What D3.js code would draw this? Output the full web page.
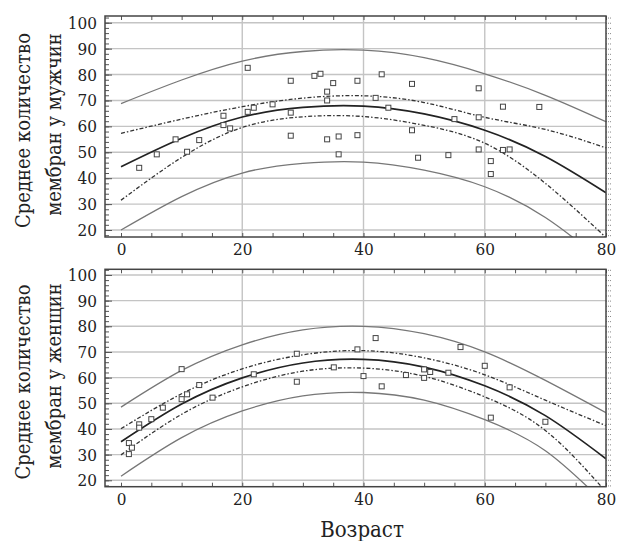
<!DOCTYPE html>
<html>
<head>
<meta charset="utf-8">
<script src="https://cdn.jsdelivr.net/npm/d3@7"></script>
<style>
body { margin: 0; background: #fff; }
svg text { font-family: "DejaVu Serif Condensed", "DejaVu Serif", serif !important; font-stretch: condensed; fill: #222; }
</style>
</head>
<body>
<script>
var ages = [0, 10, 20, 30, 40, 50, 60, 70, 80];

// men (top panel)
var menAge = [3, 5.9, 9, 10.9, 12.9, 16.9, 16.9, 18, 20.9, 20.9, 21.9, 25, 28, 28, 28, 31.9, 32.9, 34, 34, 34, 35, 35.9, 35.9, 39, 39,
              42, 43, 44.1, 48, 48, 49, 54, 55, 59, 59, 59, 61, 61, 63, 63, 64.1, 69];
var menVal = [44, 49.2, 55, 50.2, 54.7, 64.1, 60.5, 59.2, 82.6, 65.6, 67.2, 68.5, 77.6, 65.3, 56.4, 79.5, 80.3, 73.4, 70, 55, 76.7, 56.1, 49.2, 77.6, 56.6,
              71, 80.1, 67.2, 76.4, 58.5, 47.9, 48.9, 62.8, 74.7, 63.5, 51.1, 46.6, 41.6, 67.6, 50.9, 51.1, 67.5];
var menFit    = [44.4, 55.4, 63.6, 67.3, 67.8, 64.8, 58.5, 48.4, 34.4];
var menConfHi = [57.3, 62.8, 67.6, 70.9, 71.8, 69.2, 63.5, 58.8, 51.7];
var menConfLo = [31.5, 48.0, 59.6, 63.7, 63.8, 60.4, 53.5, 38.0, 17.1];
var menPredHi = [68.8, 77.9, 85.2, 88.9, 89.4, 86.5, 80.3, 72.0, 61.8];
var menPredLo = [20.0, 32.9, 42.0, 45.7, 46.2, 43.1, 36.7, 24.8, 7.0];

// women (bottom panel)
var womenAge = [1.3, 1.3, 1.8, 3, 3, 5, 6.9, 10, 10, 10.9, 12.9, 15.1, 21.9, 29, 29, 35.1, 39,
                40, 42, 43, 47, 50, 50, 51, 54, 56, 60, 61, 64.1, 70];
var womenVal = [30.2, 34.5, 32.7, 41.8, 40.5, 43.8, 48.3, 63.3, 51.6, 53.5, 57.1, 52.2, 61.3, 69.3, 58.4, 64, 71,
                60.6, 75.4, 56.6, 61, 63.2, 59.9, 62.2, 61.9, 71.9, 64.6, 44.4, 56.2, 42.8];
var womenFit    = [35.0, 49.7, 59.9, 65.7, 67.1, 64.1, 56.8, 45.2, 28.4];
var womenConfHi = [40.1, 53.7, 63.4, 68.9, 70.5, 67.7, 61.1, 51.2, 41.3];
var womenConfLo = [29.9, 45.7, 56.4, 62.5, 63.7, 60.5, 52.5, 39.4, 15.5];
var womenPredHi = [48.5, 62.8, 72.8, 78.6, 80.0, 77.1, 70.0, 58.9, 46.3];
var womenPredLo = [21.6, 36.6, 47.0, 52.9, 54.2, 51.2, 43.6, 31.5, 10.5];

var yTicks = [20, 30, 40, 50, 60, 70, 80, 90, 100];
var xTicks = [0, 20, 40, 60, 80];

var serif = "'DejaVu Serif Condensed', 'DejaVu Serif', serif";

var svg = d3.select("body").append("svg")
    .attr("width", 618)
    .attr("height", 541)
    .attr("font-family", serif);

var x = d3.scaleLinear()
    .domain([-2.64, 80])
    .range([105, 606]);

function drawPanel(id, top, bottom, yDomain, pts, fits, title2) {
  var y = d3.scaleLinear()
      .domain(yDomain)
      .range([bottom, top]);

  svg.append("clipPath").attr("id", id)
    .append("rect")
    .attr("x", x.range()[0]).attr("y", top)
    .attr("width", x.range()[1] - x.range()[0]).attr("height", bottom - top);

  // grid
  svg.append("g").selectAll("line").data(yTicks).join("line")
      .attr("x1", x.range()[0]).attr("x2", x.range()[1])
      .attr("y1", d => y(d)).attr("y2", d => y(d))
      .attr("stroke", "#c4c4c4").attr("stroke-width", 1.4);
  svg.append("g").selectAll("line").data([20, 40, 60]).join("line")
      .attr("x1", d => x(d)).attr("x2", d => x(d))
      .attr("y1", top).attr("y2", bottom)
      .attr("stroke", "#c4c4c4").attr("stroke-width", 1.4);

  // left axis, ticks inside
  svg.append("g")
      .attr("transform", "translate(" + x.range()[0] + ",0)")
      .call(d3.axisRight(y).tickValues(d3.range(18, 103, 2)).tickSize(4).tickFormat(""))
      .call(g => g.select(".domain").remove())
      .selectAll("line").attr("stroke", "#555");
  svg.append("g")
      .attr("transform", "translate(" + x.range()[0] + ",0)")
      .call(d3.axisLeft(y).tickValues(yTicks).tickSize(-7).tickPadding(8))
      .attr("font-family", serif)
      .call(g => g.select(".domain").remove())
      .call(g => g.selectAll("line").attr("stroke", "#555"))
      .selectAll("text")
      .attr("font-size", 17)
      .attr("fill", "#222");

  // right axis, small ticks outside
  svg.append("g")
      .attr("transform", "translate(" + x.range()[1] + ",0)")
      .call(d3.axisRight(y).tickValues(d3.range(18, 103, 2)).tickSize(6).tickFormat(""))
      .call(g => g.select(".domain").remove())
      .selectAll("line").attr("stroke", "#888").attr("stroke-dasharray", "1,1");

  // top & bottom ticks inside
  svg.append("g")
      .attr("transform", "translate(0," + top + ")")
      .call(d3.axisBottom(x).tickValues(d3.range(0, 81, 5)).tickSize(4).tickFormat(""))
      .call(g => g.select(".domain").remove())
      .selectAll("line").attr("stroke", "#555");
  svg.append("g")
      .attr("transform", "translate(0," + bottom + ")")
      .call(d3.axisTop(x).tickValues(d3.range(0, 81, 5)).tickSize(4).tickFormat(""))
      .call(g => g.select(".domain").remove())
      .selectAll("line").attr("stroke", "#555");
  svg.append("g")
      .attr("transform", "translate(0," + bottom + ")")
      .call(d3.axisBottom(x).tickValues(xTicks).tickSize(0).tickPadding(6))
      .attr("font-family", serif)
      .call(g => g.select(".domain").remove())
      .selectAll("text")
      .attr("font-size", 17)
      .attr("fill", "#222");

  // curves
  var line = d3.line()
      .x((d, i) => x(ages[i]))
      .y(d => y(d))
      .curve(d3.curveNatural);
  var cg = svg.append("g").attr("clip-path", "url(#" + id + ")");
  [fits.predHi, fits.predLo].forEach(function(s) {
    cg.append("path").attr("d", line(s))
      .attr("fill", "none").attr("stroke", "#777").attr("stroke-width", 1.3);
  });
  [fits.confHi, fits.confLo].forEach(function(s) {
    cg.append("path").attr("d", line(s))
      .attr("fill", "none").attr("stroke", "#333").attr("stroke-width", 1.3)
      .attr("stroke-dasharray", "4,2,1.5,2");
  });
  cg.append("path").attr("d", line(fits.fit))
    .attr("fill", "none").attr("stroke", "#222").attr("stroke-width", 1.7);

  // points
  svg.append("g").selectAll("rect").data(pts.age).join("rect")
      .attr("x", d => x(d) - 2.5)
      .attr("y", (d, i) => y(pts.val[i]) - 2.5)
      .attr("width", 5).attr("height", 5)
      .attr("fill", "#fff").attr("stroke", "#444").attr("stroke-width", 1);

  // frame
  svg.append("rect")
      .attr("x", x.range()[0]).attr("y", top)
      .attr("width", x.range()[1] - x.range()[0]).attr("height", bottom - top)
      .attr("fill", "none").attr("stroke", "#444").attr("stroke-width", 1.5);

  // y title
  var cy = (top + bottom) / 2;
  svg.append("text")
      .attr("transform", "translate(23," + (cy + 4) + ") rotate(-90)")
      .attr("text-anchor", "middle").attr("dominant-baseline", "central")
      .attr("font-size", 20)
      .text("Среднее количество");
  svg.append("text")
      .attr("transform", "translate(54," + (cy - 2) + ") rotate(-90)")
      .attr("text-anchor", "middle").attr("dominant-baseline", "central")
      .attr("font-size", 20)
      .text(title2);
}

drawPanel("clipTop", 16, 237, [17.3, 102.6],
  {age: menAge, val: menVal},
  {fit: menFit, confHi: menConfHi, confLo: menConfLo, predHi: menPredHi, predLo: menPredLo},
  "мембран у мужчин");

drawPanel("clipBottom", 269.3, 486.7, [17.5, 102.2],
  {age: womenAge, val: womenVal},
  {fit: womenFit, confHi: womenConfHi, confLo: womenConfLo, predHi: womenPredHi, predLo: womenPredLo},
  "мембран у женщин");

svg.append("text")
    .attr("x", 362)
    .attr("y", 537)
    .attr("text-anchor", "middle")
    .attr("font-size", 22)
    .text("Возраст");
</script>
</body>
</html>
